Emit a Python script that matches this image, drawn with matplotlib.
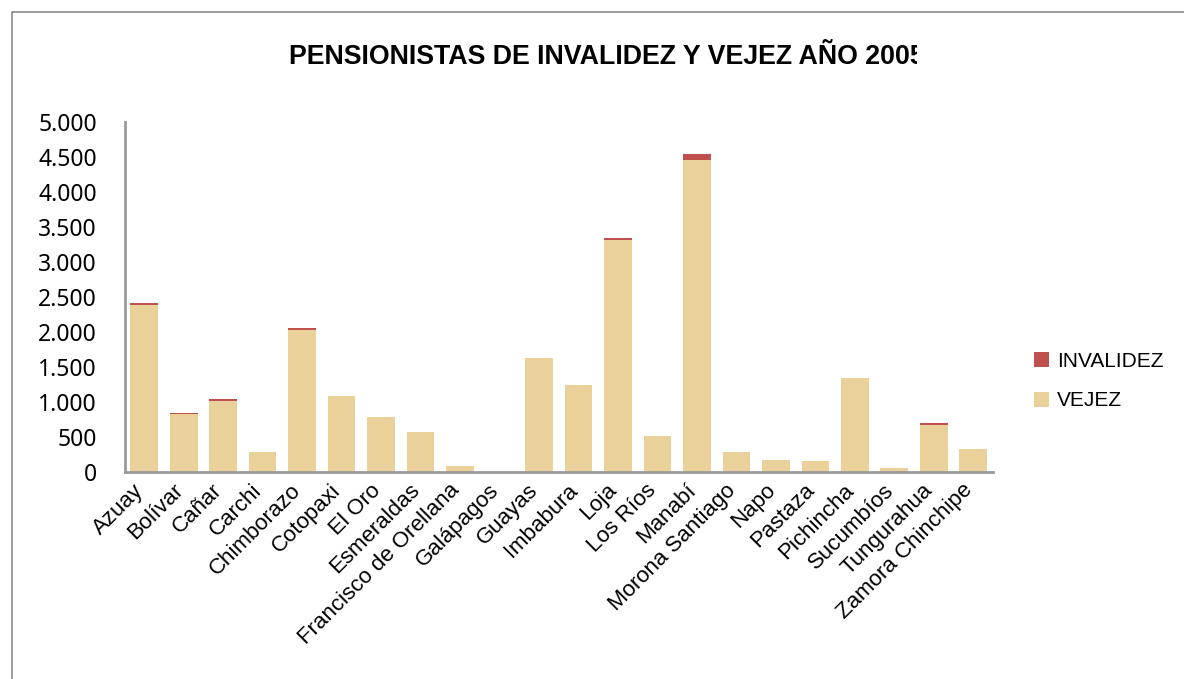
import matplotlib
matplotlib.use("Agg")
import matplotlib.pyplot as plt
from matplotlib.ticker import FuncFormatter, MultipleLocator
from matplotlib.patches import Rectangle, Patch
from matplotlib.transforms import ScaledTranslation

provincias = ["Azuay", "Bolívar", "Cañar", "Carchi", "Chimborazo", "Cotopaxi",
              "El Oro", "Esmeraldas", "Francisco de Orellana", "Galápagos",
              "Guayas", "Imbabura", "Loja", "Los Ríos", "Manabí",
              "Morona Santiago", "Napo", "Pastaza", "Pichincha", "Sucumbíos",
              "Tungurahua", "Zamora Chinchipe"]
vejez = [2385, 824, 1019, 286, 2033, 1086, 786, 571, 86, 0,
         1629, 1243, 3314, 514, 4457, 286, 171, 157, 1343, 57, 671, 329]
invalidez = [35, 20, 24, 0, 24, 0, 0, 0, 0, 0,
             0, 0, 29, 0, 86, 0, 0, 0, 0, 0, 29, 0]

W, H = 1184, 679
fig = plt.figure(figsize=(W / 100, H / 100), dpi=100)
fig.patch.set_facecolor("white")

# chart frame
fig.add_artist(Rectangle((12 / W, -0.05), 1.2, (H - 12) / H + 0.05,
                         transform=fig.transFigure, fill=False,
                         edgecolor="#8c8c8c", linewidth=1.2, zorder=1))

ax = fig.add_axes([124.5 / W, (H - 472) / H, (993 - 124.5) / W, (472 - 122) / H])

color_vejez = "#EAD19A"
color_inv = "#C0504D"
x = range(len(provincias))
ax.bar(x, vejez, width=0.7, color=color_vejez, edgecolor="none", zorder=2)
ax.bar(x, invalidez, width=0.7, bottom=vejez, color=color_inv,
       edgecolor="none", zorder=2)

ax.set_xlim(-0.5, len(provincias) - 0.5)
ax.set_ylim(0, 5000)
ax.yaxis.set_major_locator(MultipleLocator(500))
ax.yaxis.set_major_formatter(FuncFormatter(lambda v, p: f"{int(v):,}".replace(",", ".")))

for s in ("top", "right"):
    ax.spines[s].set_visible(False)
for s in ("left", "bottom"):
    ax.spines[s].set_color("#9a9a9a")
    ax.spines[s].set_linewidth(2)

ax.tick_params(axis="y", length=0, pad=20, labelsize=16.5)
for lab in ax.get_yticklabels():
    lab.set_fontfamily("Noto Sans")
ax.set_xticks(list(x))
ax.set_xticklabels(provincias, rotation=45, ha="right", va="center",
                   rotation_mode="anchor", fontsize=16,
                   fontfamily="Liberation Sans")
ax.tick_params(axis="x", length=0, pad=11)
shift = ScaledTranslation(-4 / 100, 0, fig.dpi_scale_trans)
for lab in ax.get_xticklabels():
    lab.set_transform(lab.get_transform() + shift)

# legend
fig.legend(handles=[Patch(facecolor=color_inv, edgecolor="none"),
                    Patch(facecolor=color_vejez, edgecolor="none")],
           labels=["INVALIDEZ", "VEJEZ"],
           loc="center left", bbox_to_anchor=(1015 / W, (H - 381) / H),
           frameon=False, prop={"family": "Liberation Sans", "size": 15},
           handlelength=0.75, handleheight=0.75, handletextpad=0.35,
           labelspacing=1.0)

# title, its end hidden behind the edge of the title box
fig.text(289 / W, (H - 57) / H, "PENSIONISTAS DE INVALIDEZ Y VEJEZ AÑO 2005",
         ha="left", va="center", fontsize=19.3, fontweight="bold",
         fontfamily="Liberation Sans", zorder=3)
fig.add_artist(Rectangle((917 / W, (H - 80) / H), 60 / W, 45 / H,
                         transform=fig.transFigure, facecolor="white",
                         edgecolor="none", zorder=5))

fig.savefig("out.png", dpi=100)
